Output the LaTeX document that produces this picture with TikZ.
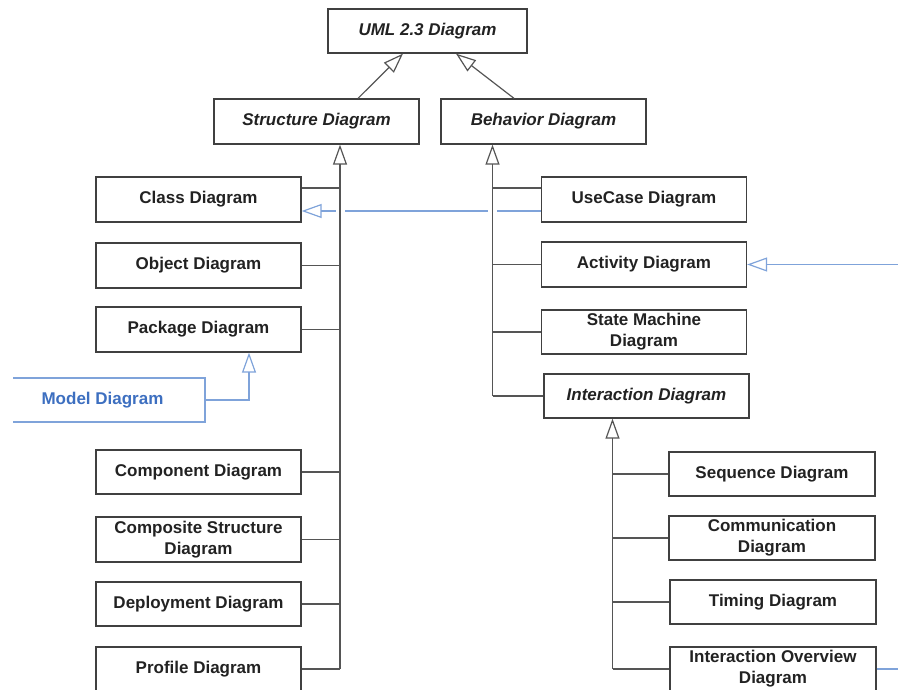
\documentclass[tikz,border=0pt]{standalone}
\usepackage{fontspec}
\setmainfont{Liberation Sans}
\usetikzlibrary{arrows.meta}
\definecolor{boxgray}{HTML}{404040}
\definecolor{linegray}{HTML}{555555}
\definecolor{txtgray}{HTML}{222222}
\definecolor{umlblue}{HTML}{7FA3DA}
\definecolor{umltext}{HTML}{3D6FC0}
\tikzset{
  diag/.style={draw=boxgray, line width=1.3pt, minimum width=205pt, minimum height=45pt,
    inner sep=2pt, align=center, text=txtgray, font=\bfseries\fontsize{17}{21}\selectfont},
  abstr/.style={diag, font=\bfseries\itshape\fontsize{17}{21}\selectfont},
  link/.style={draw=linegray, line width=1.2pt},
  inh/.style={link, -{Triangle[open, length=20pt, width=14pt, line width=1.2pt]}},
  blueinh/.style={draw=umlblue, line width=1.2pt, -{Triangle[open, length=20pt, width=14pt, line width=1.2pt]}},
  knock/.style={draw=white, line width=9pt, shorten >=25pt}
}
\begin{document}
\begin{tikzpicture}[x=1pt, y=-1pt]
	%%%%% START %%%%%
	\useasboundingbox (0,0) rectangle (898,690);
	\clip (13,0) rectangle (898,690);
	
	% top of the tree
	\node[abstr, minimum width=199pt, minimum height=44pt] (uml) at (427.5, 31) {UML 2.3 Diagram};
	\node[abstr] (struct) at (316.5, 121.5) {Structure Diagram};
	\node[abstr] (behav) at (543.5, 121.5) {Behavior Diagram};
	
	% structure side
	\node[diag] (class) at (198.5, 199.5) {Class Diagram};
	\node[diag] (object) at (198.5, 265.5) {Object Diagram};
	\node[diag] (package) at (198.5, 329.5) {Package Diagram};
	\node[diag, draw=umlblue, text=umltext, minimum height=44pt] (model) at (102.5, 400) {Model Diagram};
	\node[diag, minimum height=44pt] (component) at (198.5, 472) {Component Diagram};
	\node[diag] (composite) at (198.5, 539.5) {Composite Structure\\Diagram};
	\node[diag, minimum height=44pt] (deploy) at (198.5, 604) {Deployment Diagram};
	\node[diag, minimum height=44pt] (profile) at (198.5, 669) {Profile Diagram};
	
	% behavior side
	\node[diag] (usecase) at (644, 199.5) {UseCase Diagram};
	\node[diag] (activity) at (644, 264.5) {Activity Diagram};
	\node[diag, minimum height=44pt] (state) at (644, 332) {State Machine\\Diagram};
	\node[abstr, minimum height=44pt] (interact) at (646.5, 396) {Interaction Diagram};
	\node[diag, minimum width=206pt, minimum height=44pt] (sequence) at (772, 474) {Sequence Diagram};
	\node[diag, minimum width=206pt, minimum height=44pt] (comm) at (772, 538) {Communication\\Diagram};
	\node[diag, minimum width=206pt, minimum height=44pt] (timing) at (773, 602) {Timing Diagram};
	\node[diag, minimum width=206pt, minimum height=44pt] (overview) at (773, 669) {Interaction Overview\\Diagram};
	
	\coordinate (sbot) at (340, 669);
	\coordinate (bbot) at (492.5, 396);
	\coordinate (ibot) at (612.5, 669);
	\coordinate (redge) at (900, 0);
	
	% usecase extends class (drawn first, trunks cut through it)
	\draw[blueinh] ([yshift=-11.5pt]usecase.west) -- ([yshift=-11.5pt]usecase.west -| class.east);
	\draw[knock] (sbot) -- (sbot |- struct.south);
	\draw[knock] (bbot) -- (bbot |- behav.south);
	
	% generalisation to the root
	\draw[inh] ([xshift=41.5pt]struct.north) -- ([xshift=-24.5pt]uml.south);
	\draw[inh] ([xshift=-29.5pt]behav.north) -- ([xshift=28.5pt]uml.south);
	
	% structure trunk
	\draw[inh] (sbot) -- (sbot |- struct.south);
	\draw[link] ([yshift=11.5pt]class.east) -- ([yshift=11.5pt]class.east -| sbot);
	\draw[link] (object.east) -- (object.east -| sbot);
	\draw[link] (package.east) -- (package.east -| sbot);
	\draw[link] (component.east) -- (component.east -| sbot);
	\draw[link] (composite.east) -- (composite.east -| sbot);
	\draw[link] (deploy.east) -- (deploy.east -| sbot);
	\draw[link] (profile.east) -- (sbot);
	\draw[blueinh] (model.east) -| ([xshift=50.5pt]package.south);
	
	% behavior trunk
	\draw[inh] (bbot) -- (bbot |- behav.south);
	\draw[link] ([yshift=11.5pt]usecase.west) -- ([yshift=11.5pt]usecase.west -| bbot);
	\draw[link] (activity.west) -- (activity.west -| bbot);
	\draw[link] (state.west) -- (state.west -| bbot);
	\draw[link] (interact.west) -- (bbot);
	\draw[blueinh] (activity.east -| redge) -- (activity.east);
	
	% interaction trunk
	\draw[inh] (ibot) -- (ibot |- interact.south);
	\draw[link] (sequence.west) -- (sequence.west -| ibot);
	\draw[link] (comm.west) -- (comm.west -| ibot);
	\draw[link] (timing.west) -- (timing.west -| ibot);
	\draw[link] (overview.west) -- (ibot);
	\draw[draw=umlblue, line width=1.2pt] (overview.east) -- (overview.east -| redge);
	
	%%%%% END %%%%%
\end{tikzpicture}
\end{document}
